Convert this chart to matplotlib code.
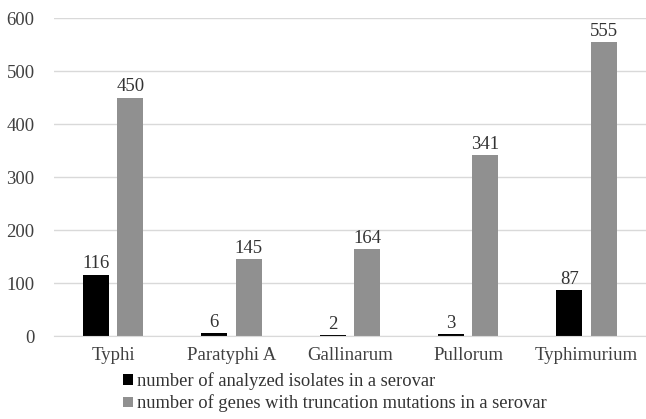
import matplotlib
matplotlib.use("Agg")
import matplotlib.pyplot as plt
import numpy as np

serovars = ["Typhi", "Paratyphi A", "Gallinarum", "Pullorum", "Typhimurium"]
isolates = [116, 6, 2, 3, 87]
truncated_genes = [450, 145, 164, 341, 555]
yticks = [0, 100, 200, 300, 400, 500, 600]

plt.rcParams["font.family"] = ["Liberation Serif", "DejaVu Serif"]
plt.rcParams["font.size"] = 13.5

fig = plt.figure(figsize=(6.46, 4.19), dpi=100)
ax = fig.add_axes([0.0836, 0.198, 0.916, 0.759])

x = np.arange(len(serovars))
w = 0.22
off = 0.145
b1 = ax.bar(x - off, isolates, w, color="black", label="number of analyzed isolates in a serovar")
b2 = ax.bar(x + off, truncated_genes, w, color="#909090",
            label="number of genes with truncation mutations in a serovar")

for bars, vals in [(b1, isolates), (b2, truncated_genes)]:
    for b, v in zip(bars, vals):
        ax.annotate(f"{v}", (b.get_x() + b.get_width() / 2, v), xytext=(0, 1.5),
                    textcoords="offset points", ha="center", va="bottom",
                    color="#333333", fontsize=13.5)

ax.set_xlim(-0.5, len(serovars) - 0.5)
ax.set_ylim(0, 600)
ax.set_yticks(yticks)
ax.set_xticks(x)
ax.set_xticklabels(serovars)
ax.yaxis.grid(True, color="#d9d9d9", linewidth=1)
ax.set_axisbelow(True)
for s in ["top", "right", "left"]:
    ax.spines[s].set_visible(False)
ax.spines["bottom"].set_color("#d9d9d9")
ax.tick_params(axis="x", length=0, colors="#404040", pad=8)
ax.tick_params(axis="y", length=0, colors="#404040", pad=14)

fig.legend(handles=[b1, b2], loc="upper left", bbox_to_anchor=(0.19, 0.112),
           frameon=False, ncol=1, handlelength=0.55, handleheight=0.5,
           handletextpad=0.2, labelspacing=0.25, borderpad=0, borderaxespad=0,
           fontsize=13.3, labelcolor="#333333")

fig.savefig("out.png", dpi=100)
